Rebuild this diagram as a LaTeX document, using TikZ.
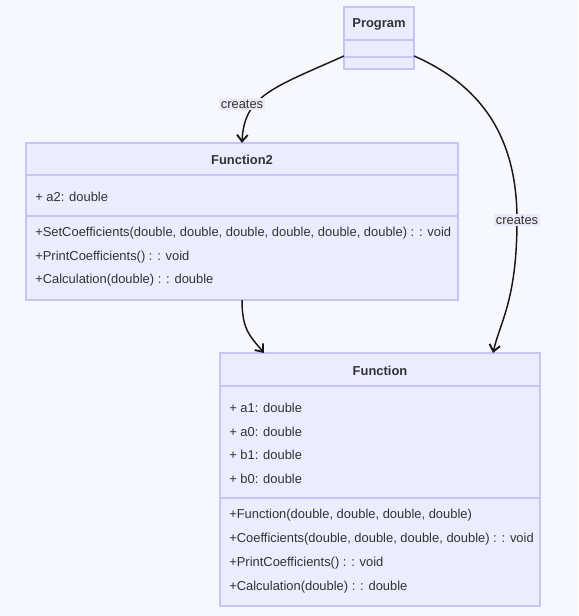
\documentclass[tikz,border=0pt]{standalone}
\usepackage{fontspec}
\setmainfont{Liberation Sans}
\usetikzlibrary{arrows.meta,calc,fit}
\definecolor{bg}{HTML}{F7F8FE}
\definecolor{boxfill}{HTML}{ECECFF}
\definecolor{boxline}{HTML}{C6C6F6}
\definecolor{lblfill}{HTML}{E9E9F7}
\definecolor{ink}{HTML}{333333}
\begin{document}
\begin{tikzpicture}[x=0.75pt,y=-0.75pt,
  umlbox/.style={draw=boxline, fill=boxfill, line width=0.9pt, inner sep=0pt, outer sep=0pt},
  divider/.style={draw=boxline, line width=0.9pt},
  title/.style={font=\fontsize{9.7}{11}\selectfont\bfseries, text=ink, inner sep=0pt},
  member/.style={font=\fontsize{9.7}{11}\selectfont, text=ink, anchor=west, inner sep=0pt},
  rel/.style={draw=black!90, line width=1.1pt, -{Straight Barb[length=5pt,width=8pt,line width=1.4pt]}},
  lbl/.style={fill=lblfill, text=ink, font=\fontsize{9.7}{11}\selectfont, inner sep=1.5pt}
]
% canvas
\fill[bg] (0,0) rectangle (578,616);
\useasboundingbox (0,0) rectangle (578,616);

% class Program
\node[umlbox, fit={(344,7) (414,69)}] (prog) {};
\draw[divider] (344,40) -- (414,40);
\draw[divider] (344,57) -- (414,57);
\node[title] (progT) at (379,24.5) {Program};

% class Function2
\node[umlbox, fit={(26,143) (458,300)}] (f2) {};
\draw[divider] (26,175) -- (458,175);
\draw[divider] (26,216) -- (458,216);
\node[title] (f2T) at (242,160) {Function2};
\node[member] (f2a) at (35,196.5) {+ a2: double};
\node[member] (f2m1) at (35,233.5) {+SetCoefficients(double, double, double, double, double, double) : : void};
\node[member] (f2m2) at (35,257.5) {+PrintCoefficients() : : void};
\node[member] (f2m3) at (35,280.5) {+Calculation(double) : : double};

% class Function
\node[umlbox, fit={(220,353) (540,606)}] (f) {};
\draw[divider] (220,386) -- (540,386);
\draw[divider] (220,498) -- (540,498);
\node[title] (fT) at (380,370.5) {Function};
\node[member] (fa1) at (229,407.5) {+ a1: double};
\node[member] (fa0) at (229,431.5) {+ a0: double};
\node[member] (fb1) at (229,454.5) {+ b1: double};
\node[member] (fb0) at (229,478.5) {+ b0: double};
\node[member] (fm1) at (229,515.5) {+Function(double, double, double, double)};
\node[member] (fm2) at (229,539.5) {+Coefficients(double, double, double, double) : : void};
\node[member] (fm3) at (229,563.5) {+PrintCoefficients() : : void};
\node[member] (fm4) at (229,587.5) {+Calculation(double) : : double};

% relations
\draw[rel] ($(prog.south west)+(0,-13)$) .. controls (272,88) and (244,96) .. (f2.north);
\draw[rel] ($(prog.south east)+(0,-13)$) .. controls (492,90) and (517,150) .. (517,220)
           .. controls (517,300) and (500,322) .. ($(f.north west)+(273,0)$);
\draw[rel] (f2.south) .. controls (242,330) and (250,336) .. ($(f.north west)+(44,0)$);

% relation labels
\node[lbl] (c1) at (242,104) {creates};
\node[lbl] (c2) at (517,220) {creates};
\end{tikzpicture}
\end{document}
